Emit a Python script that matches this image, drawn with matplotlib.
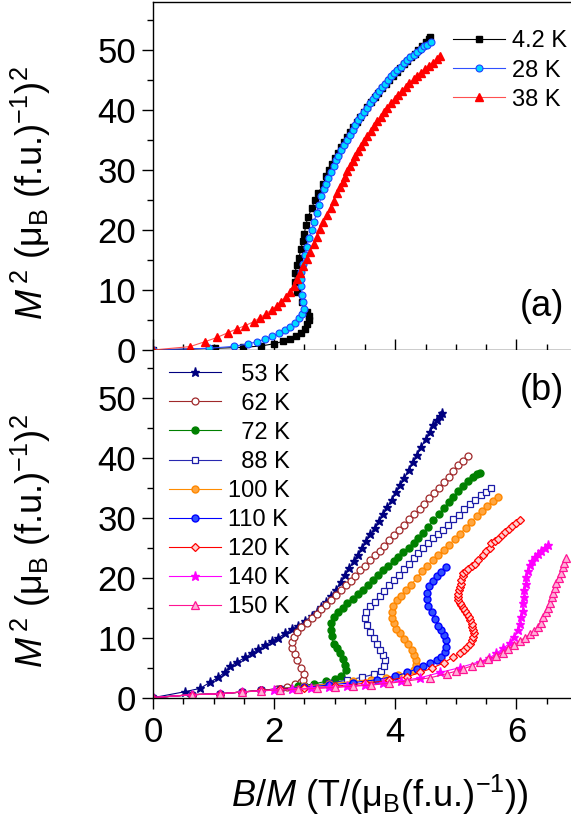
import numpy as np
import matplotlib
matplotlib.use('Agg')
import matplotlib.pyplot as plt
from matplotlib.ticker import MultipleLocator

plt.rcParams['font.family'] = ['Liberation Sans', 'DejaVu Sans']
plt.rcParams['mathtext.fontset'] = 'custom'
plt.rcParams['mathtext.rm'] = 'Liberation Sans'
plt.rcParams['mathtext.it'] = 'Liberation Sans:italic'

# ---- panel (a): low temperatures ----
t4_x = [0, 1.02, 1.49, 1.79, 2.00, 2.15, 2.26, 2.36, 2.44, 2.51, 2.55, 2.57, 2.58, 2.55, 2.46,
        2.38, 2.35, 2.34, 2.38, 2.41, 2.44, 2.47, 2.50, 2.52, 2.56, 2.62, 2.67, 2.73, 2.81, 2.86,
        2.90, 2.95, 3.00, 3.05, 3.10, 3.15, 3.20, 3.25, 3.30, 3.36, 3.42, 3.48, 3.54, 3.60, 3.66,
        3.72, 3.78, 3.84, 3.90, 3.96, 4.02, 4.08, 4.14, 4.20, 4.26, 4.32, 4.38, 4.44, 4.50, 4.55, 4.57]
t4_y = [0, 0.28, 0.44, 0.67, 1.05, 1.44, 1.89, 2.33, 2.89, 3.56, 4.33, 5.0, 5.67, 6.4, 8.0,
        9.7, 11.3, 12.9, 14.2, 15.4, 16.8, 18.1, 19.4, 20.8, 22.2, 23.6, 25.0, 26.2, 27.7, 29.0,
        30.0, 31.0, 32.0, 32.9, 33.8, 34.7, 35.5, 36.3, 37.1, 38.0, 38.9, 39.7, 40.5, 41.3, 42.1,
        42.9, 43.6, 44.3, 45.0, 45.7, 46.4, 47.0, 47.6, 48.2, 48.8, 49.4, 50.0, 50.6, 51.3, 51.9, 52.2]

t28_x = [0, 0.92, 1.33, 1.56, 1.72, 1.85, 1.97, 2.08, 2.18, 2.26, 2.34, 2.41, 2.46, 2.49, 2.48,
         2.46, 2.45, 2.44, 2.45, 2.48, 2.51, 2.54, 2.57, 2.62, 2.66, 2.70, 2.74, 2.78, 2.82, 2.855,
         2.89, 2.93, 2.98, 3.02, 3.06, 3.11, 3.16, 3.21, 3.25, 3.30, 3.34, 3.39, 3.43, 3.48, 3.53,
         3.58, 3.63, 3.68, 3.73, 3.78, 3.83, 3.88, 3.93, 3.98, 4.03, 4.09, 4.14, 4.20, 4.25, 4.31,
         4.36, 4.42, 4.47, 4.53, 4.59]
t28_y = [0, 0.28, 0.6, 1.0, 1.39, 1.83, 2.33, 2.78, 3.33, 3.9, 4.56, 5.28, 6.0, 6.8, 8.06,
         9.17, 10.6, 11.9, 13.0, 14.4, 15.8, 17.2, 18.6, 20.0, 21.4, 22.8, 24.2, 25.6, 26.8, 27.6,
         28.6, 29.6, 30.6, 31.6, 32.4, 33.3, 34.2, 35.0, 35.8, 36.7, 37.5, 38.3, 39.0, 39.7, 40.4,
         41.1, 41.8, 42.5, 43.2, 43.8, 44.4, 45.0, 45.6, 46.1, 46.7, 47.2, 47.8, 48.3, 48.8, 49.2,
         49.7, 50.1, 50.6, 50.9, 51.4]

t38_x = [0, 0.61, 0.86, 1.06, 1.24, 1.38, 1.52, 1.66, 1.77, 1.86, 1.96, 2.04, 2.12, 2.19, 2.26,
         2.32, 2.37, 2.43, 2.48, 2.54, 2.59, 2.65, 2.70, 2.76, 2.81, 2.87, 2.93, 2.98, 3.04, 3.09,
         3.13, 3.17, 3.21, 3.25, 3.30, 3.34, 3.39, 3.44, 3.49, 3.54, 3.60, 3.65, 3.70, 3.76, 3.81,
         3.87, 3.93, 3.99, 4.05, 4.11, 4.17, 4.23, 4.30, 4.36, 4.42, 4.49, 4.55, 4.62, 4.68, 4.74]
t38_y = [0, 0.56, 1.39, 2.1, 2.9, 3.5, 4.06, 4.7, 5.4, 6.0, 6.7, 7.3, 8.06, 8.9, 9.7,
         10.7, 11.8, 12.9, 14.0, 15.1, 16.4, 17.7, 18.9, 20.1, 21.4, 22.5, 23.7, 24.9, 26.1, 27.2,
         28.0, 28.9, 29.8, 30.6, 31.5, 32.3, 33.2, 34.0, 34.9, 35.7, 36.5, 37.3, 38.1, 38.9, 39.7,
         40.4, 41.1, 41.8, 42.5, 43.2, 43.9, 44.5, 45.1, 45.7, 46.2, 46.8, 47.4, 47.9, 48.5, 49.0]

# ---- panel (b): high temperatures ----
t53_x = [0, 0.53, 0.78, 0.94, 1.08, 1.19, 1.27, 1.38, 1.52, 1.63, 1.74, 1.85, 1.96, 2.07, 2.18,
         2.29, 2.40, 2.51, 2.62, 2.70, 2.78, 2.86, 2.94, 3.02, 3.10, 3.17, 3.24, 3.31, 3.38, 3.45,
         3.52, 3.59, 3.66, 3.73, 3.80, 3.87, 3.94, 4.01, 4.08, 4.15, 4.22, 4.29, 4.36, 4.43, 4.50,
         4.57, 4.63, 4.69, 4.74, 4.77]
t53_y = [0, 1.0, 1.56, 2.56, 3.4, 4.33, 5.2, 5.9, 6.7, 7.4, 8.1, 8.8, 9.4, 10.0, 10.7,
         11.4, 12.0, 12.8, 13.6, 14.3, 15.1, 15.9, 16.9, 18.0, 19.3, 20.5, 21.6, 22.7, 23.8, 25.0,
         26.1, 27.2, 28.3, 29.4, 30.6, 31.8, 33.0, 34.2, 35.4, 36.6, 37.9, 39.2, 40.5, 41.8, 43.1,
         44.3, 45.4, 46.3, 47.0, 47.4]

t62_x = [0, 0.64, 1.11, 1.47, 1.79, 2.04, 2.21, 2.34, 2.44, 2.48, 2.49, 2.45, 2.37, 2.34, 2.30,
         2.29, 2.32, 2.37, 2.45, 2.54, 2.62, 2.70, 2.78, 2.86, 2.94, 3.02, 3.10, 3.18, 3.26, 3.34,
         3.42, 3.50, 3.58, 3.66, 3.74, 3.82, 3.90, 3.98, 4.06, 4.15, 4.23, 4.31, 4.40, 4.48, 4.56,
         4.64, 4.72, 4.80, 4.88, 4.96, 5.04, 5.12, 5.20]
t62_y = [0, 0.5, 0.65, 0.95, 1.2, 1.5, 1.8, 2.2, 2.6, 3.0, 4.0, 4.9, 6.2, 7.2, 8.2,
         9.2, 10.1, 11.0, 11.8, 12.5, 13.2, 13.9, 14.7, 15.5, 16.3, 17.1, 17.9, 18.7, 19.5, 20.3,
         21.2, 22.0, 22.9, 23.7, 24.5, 25.3, 26.2, 27.1, 27.9, 28.8, 29.7, 30.6, 31.4, 32.3, 33.2,
         34.1, 35.0, 35.9, 36.8, 37.8, 38.7, 39.5, 40.3]

t72_x = [0, 0.64, 1.11, 1.47, 1.79, 2.10, 2.40, 2.65, 2.85, 3.00, 3.11, 3.18, 3.17, 3.14, 3.09,
         3.03, 2.98, 2.95, 2.93, 2.94, 2.98, 3.06, 3.13, 3.21, 3.30, 3.38, 3.47, 3.55, 3.63, 3.72,
         3.80, 3.88, 3.97, 4.05, 4.13, 4.22, 4.30, 4.38, 4.46, 4.54, 4.63, 4.72, 4.80, 4.88, 4.96,
         5.04, 5.12, 5.20, 5.28, 5.35, 5.39]
t72_y = [0, 0.5, 0.65, 0.95, 1.2, 1.5, 1.9, 2.3, 2.7, 3.1, 3.6, 4.6, 5.5, 6.4, 7.4,
         8.2, 9.0, 10.2, 11.3, 12.4, 13.4, 14.3, 15.0, 15.7, 16.5, 17.2, 18.0, 18.8, 19.6, 20.4,
         21.2, 22.0, 22.8, 23.5, 24.2, 25.0, 25.8, 26.6, 27.4, 28.4, 29.6, 30.6, 31.6, 32.6, 33.5,
         34.4, 35.3, 36.1, 36.8, 37.2, 37.5]

t88_x = [0, 0.64, 1.11, 1.47, 1.79, 2.10, 2.50, 2.90, 3.20, 3.45, 3.65, 3.77, 3.82, 3.83, 3.80,
         3.75, 3.70, 3.64, 3.58, 3.54, 3.50, 3.51, 3.58, 3.66, 3.74, 3.82, 3.90, 3.98, 4.06, 4.14,
         4.22, 4.30, 4.38, 4.46, 4.54, 4.62, 4.70, 4.78, 4.87, 4.96, 5.05, 5.14, 5.23, 5.32, 5.41,
         5.49, 5.58]
t88_y = [0, 0.5, 0.65, 0.95, 1.2, 1.5, 1.9, 2.4, 2.9, 3.4, 3.9, 4.5, 5.3, 6.2, 7.1,
         8.0, 8.9, 9.9, 11.0, 12.1, 13.3, 14.3, 15.2, 16.0, 16.9, 17.8, 18.7, 19.6, 20.5, 21.4,
         22.3, 23.2, 24.1, 25.0, 25.8, 26.6, 27.3, 28.0, 28.8, 29.7, 30.5, 31.4, 32.3, 33.0, 33.7,
         34.3, 34.9]

t100_x = [0, 0.64, 1.11, 1.47, 1.79, 2.10, 2.50, 2.90, 3.30, 3.60, 3.85, 4.05, 4.20, 4.30, 4.34,
          4.34, 4.31, 4.27, 4.21, 4.14, 4.07, 4.01, 3.97, 3.95, 3.94, 3.96, 4.02, 4.09, 4.17, 4.26,
          4.35, 4.44, 4.53, 4.62, 4.71, 4.80, 4.89, 4.98, 5.07, 5.16, 5.25, 5.34, 5.43, 5.52, 5.61,
          5.70]
t100_y = [0, 0.5, 0.65, 0.95, 1.2, 1.5, 1.9, 2.3, 2.7, 3.0, 3.3, 3.7, 4.1, 4.6, 5.4,
          6.2, 7.1, 8.0, 8.9, 9.8, 10.7, 11.5, 12.4, 13.3, 14.3, 15.3, 16.2, 17.0, 17.9, 18.8,
          19.9, 21.1, 22.0, 22.9, 23.8, 24.6, 25.5, 26.4, 27.3, 28.3, 29.3, 30.2, 31.1, 32.0, 32.8,
          33.5]

t110_x = [0, 0.64, 1.11, 1.47, 1.79, 2.10, 2.50, 2.90, 3.30, 3.70, 4.00, 4.20, 4.35, 4.46, 4.57,
          4.68, 4.76, 4.82, 4.83, 4.83, 4.80, 4.76, 4.71, 4.65, 4.60, 4.54, 4.52, 4.53, 4.56, 4.63,
          4.69, 4.76, 4.83]
t110_y = [0, 0.5, 0.65, 0.95, 1.2, 1.45, 1.75, 2.1, 2.5, 3.0, 3.6, 4.2, 4.8, 5.3, 5.7,
          6.2, 6.8, 7.6, 8.5, 9.6, 10.4, 11.2, 12.0, 13.1, 14.2, 15.3, 16.4, 17.5, 18.6, 19.4,
          20.2, 21.0, 21.8]

t120_x = [0, 0.64, 1.11, 1.47, 1.79, 2.10, 2.50, 3.00, 3.50, 3.90, 4.20, 4.41, 4.60, 4.80, 4.96,
          5.06, 5.13, 5.19, 5.23, 5.27, 5.29, 5.30, 5.29, 5.27, 5.26, 5.23, 5.21, 5.18, 5.15, 5.12,
          5.09, 5.06, 5.04, 5.04, 5.04, 5.05, 5.06, 5.08, 5.09, 5.11, 5.12, 5.16, 5.20, 5.26, 5.31,
          5.37, 5.44, 5.50, 5.56, 5.58, 5.64, 5.70, 5.76, 5.81, 5.87, 5.92, 5.99, 6.06]
t120_y = [0, 0.5, 0.65, 0.95, 1.2, 1.4, 1.6, 1.9, 2.4, 2.9, 3.5, 4.2, 4.9, 5.8, 6.8,
          7.4, 7.9, 8.5, 9.0, 9.6, 10.1, 10.7, 11.2, 11.8, 12.3, 12.9, 13.4, 14.0, 14.5, 15.0,
          15.4, 15.8, 16.2, 16.8, 17.3, 17.9, 18.4, 19.0, 19.6, 20.2, 20.7, 21.1, 21.5, 21.9, 22.3,
          23.0, 23.8, 24.4, 24.9, 25.7, 26.1, 26.5, 27.1, 27.6, 28.1, 28.6, 29.1, 29.6]

t140_x = [0, 0.64, 1.11, 1.47, 1.79, 2.00, 2.30, 2.60, 2.90, 3.20, 3.50, 3.80, 4.10, 4.40, 4.74,
          5.06, 5.39, 5.55, 5.67, 5.78, 5.89, 5.96, 6.03, 6.06, 6.08, 6.10, 6.11, 6.12, 6.13, 6.15,
          6.16, 6.19, 6.22, 6.26, 6.30, 6.35, 6.41, 6.47, 6.52]
t140_y = [0, 0.5, 0.65, 0.95, 1.15, 1.25, 1.4, 1.55, 1.7, 1.9, 2.1, 2.4, 2.8, 3.3, 4.2,
          5.0, 6.0, 6.6, 7.4, 8.2, 9.1, 10.1, 11.2, 12.3, 13.4, 14.5, 15.7, 16.8, 17.9, 19.0,
          20.1, 21.1, 22.1, 22.8, 23.4, 24.0, 24.5, 25.0, 25.5]

t150_x = [0, 0.64, 1.11, 1.47, 1.79, 2.10, 2.40, 2.70, 3.00, 3.30, 3.60, 3.90, 4.20, 4.57, 4.85,
          5.00, 5.12, 5.26, 5.40, 5.53, 5.67, 5.77, 5.86, 5.96, 6.06, 6.14, 6.22, 6.29, 6.36, 6.40,
          6.44, 6.48, 6.52, 6.55, 6.58, 6.61, 6.63, 6.66, 6.70, 6.73, 6.76, 6.79, 6.82]
t150_y = [0, 0.5, 0.65, 0.95, 1.15, 1.3, 1.4, 1.55, 1.7, 1.9, 2.1, 2.4, 2.8, 3.3, 4.0,
          4.4, 4.8, 5.3, 5.9, 6.4, 7.0, 7.5, 8.1, 8.8, 9.5, 10.0, 10.6, 11.1, 11.7, 12.5,
          13.4, 14.2, 15.0, 15.8, 16.7, 17.5, 18.3, 19.1, 20.0, 20.8, 21.7, 22.5, 23.3]

labels_a = ['4.2 K', '28 K', '38 K']
labels_b = ['  53 K', '  62 K', '  72 K', '  88 K', '100 K', '110 K', '120 K', '140 K', '150 K']

TICK_FS = 25
LABEL_FS = 26
LEG_FS = 17


def style_axes(ax, bottom_in=False):
    ax.set_xlim(0, 6.9)
    ax.set_ylim(0, 58)
    ax.xaxis.set_major_locator(MultipleLocator(2))
    ax.xaxis.set_minor_locator(MultipleLocator(0.5))
    ax.yaxis.set_major_locator(MultipleLocator(10))
    ax.yaxis.set_minor_locator(MultipleLocator(5))
    ax.tick_params(axis='y', which='major', direction='out', length=8, width=1, labelsize=TICK_FS, pad=4)
    ax.tick_params(axis='y', which='minor', direction='out', length=4, width=1)
    xdir = 'in' if bottom_in else 'out'
    ax.tick_params(axis='x', which='major', direction=xdir, length=8, width=1, labelsize=TICK_FS, pad=5)
    ax.tick_params(axis='x', which='minor', direction=xdir, length=4, width=1)
    ax.spines['right'].set_visible(False)
    for s in ['left', 'bottom', 'top']:
        ax.spines[s].set_linewidth(1.0)


def add_legend(ax, anchor):
    ax.legend(loc='upper left', bbox_to_anchor=anchor, frameon=False, fontsize=LEG_FS,
              handlelength=2.2, handletextpad=0.3, labelspacing=0.3, borderpad=0,
              borderaxespad=0, numpoints=1)


fig = plt.figure(figsize=(5.71, 8.16), dpi=100)
ax_a = fig.add_axes([0.268, 0.5711, 0.732, 0.4265])
ax_b = fig.add_axes([0.268, 0.145, 0.732, 0.4265])

# panel (a)
ax_a.plot(t4_x, t4_y, '-s', color='black', lw=0.8, ms=4.5, mec='black', label=labels_a[0])
ax_a.plot(t28_x, t28_y, '-o', color='#3050ff', lw=0.8, ms=5, mfc='#00d8ff', mec='#2040ff', mew=0.8,
          label=labels_a[1])
ax_a.plot(t38_x, t38_y, '-^', color='#ff5050', lw=0.8, ms=5.5, mfc='#ff0000', mec='#ff0000',
          label=labels_a[2])

style_axes(ax_a, bottom_in=True)
ax_a.tick_params(axis='x', labelbottom=False)
add_legend(ax_a, (0.718, 0.918))
ax_a.text(0.93, 0.126, '(a)', transform=ax_a.transAxes, fontsize=LABEL_FS, ha='center', va='center')

# panel (b)
series_b = [
    (t53_x, t53_y, dict(marker='*', color='#000080', ms=6.5, mfc='#000080', mec='#000080')),
    (t62_x, t62_y, dict(marker='o', color='#a0282a', ms=5, mfc='white', mec='#a0282a', mew=0.9)),
    (t72_x, t72_y, dict(marker='o', color='#008000', ms=5, mfc='#008000', mec='#008000')),
    (t88_x, t88_y, dict(marker='s', color='#2828b0', ms=4.5, mfc='white', mec='#1c1ca8', mew=0.9)),
    (t100_x, t100_y, dict(marker='o', color='#ff8c00', ms=5, mfc='#ffa640', mec='#ff8800')),
    (t110_x, t110_y, dict(marker='o', color='#0000ff', ms=5, mfc='#3050ff', mec='#0000ff')),
    (t120_x, t120_y, dict(marker='D', color='#ff0000', ms=4.5, mfc='#ffd0d0', mec='#ff0000', mew=0.9)),
    (t140_x, t140_y, dict(marker='*', color='#ff00ff', ms=6.5, mfc='#ff00ff', mec='#ff00ff')),
    (t150_x, t150_y, dict(marker='^', color='#ff1493', ms=5.5, mfc='#ffb0d8', mec='#ff1493', mew=0.9)),
]
for (xs, ys, kw), lab in zip(series_b, labels_b):
    ax_b.plot(xs, ys, '-', lw=0.8, label=lab, **kw)

style_axes(ax_b)
ax_b.spines['top'].set_visible(False)
add_legend(ax_b, (0.038, 0.960))
ax_b.text(0.93, 0.884, '(b)', transform=ax_b.transAxes, fontsize=LABEL_FS, ha='center', va='center')

ylab = r'$M^{\,2}$ (μ$_{\rm B}$ (f.u.)$^{-1}$)$^2$'
for ax in (ax_a, ax_b):
    ax.set_ylabel(ylab, fontsize=LABEL_FS)
    ax.yaxis.set_label_coords(-0.24, 0.45)

ax_b.set_xlabel(r'$B$/$M$ (T/(μ$_{\rm B}$(f.u.)$^{-1}$))', fontsize=LABEL_FS, va='top')
ax_b.xaxis.set_label_coords(0.543, -0.216)

fig.savefig('out.png', dpi=100, facecolor='white')
